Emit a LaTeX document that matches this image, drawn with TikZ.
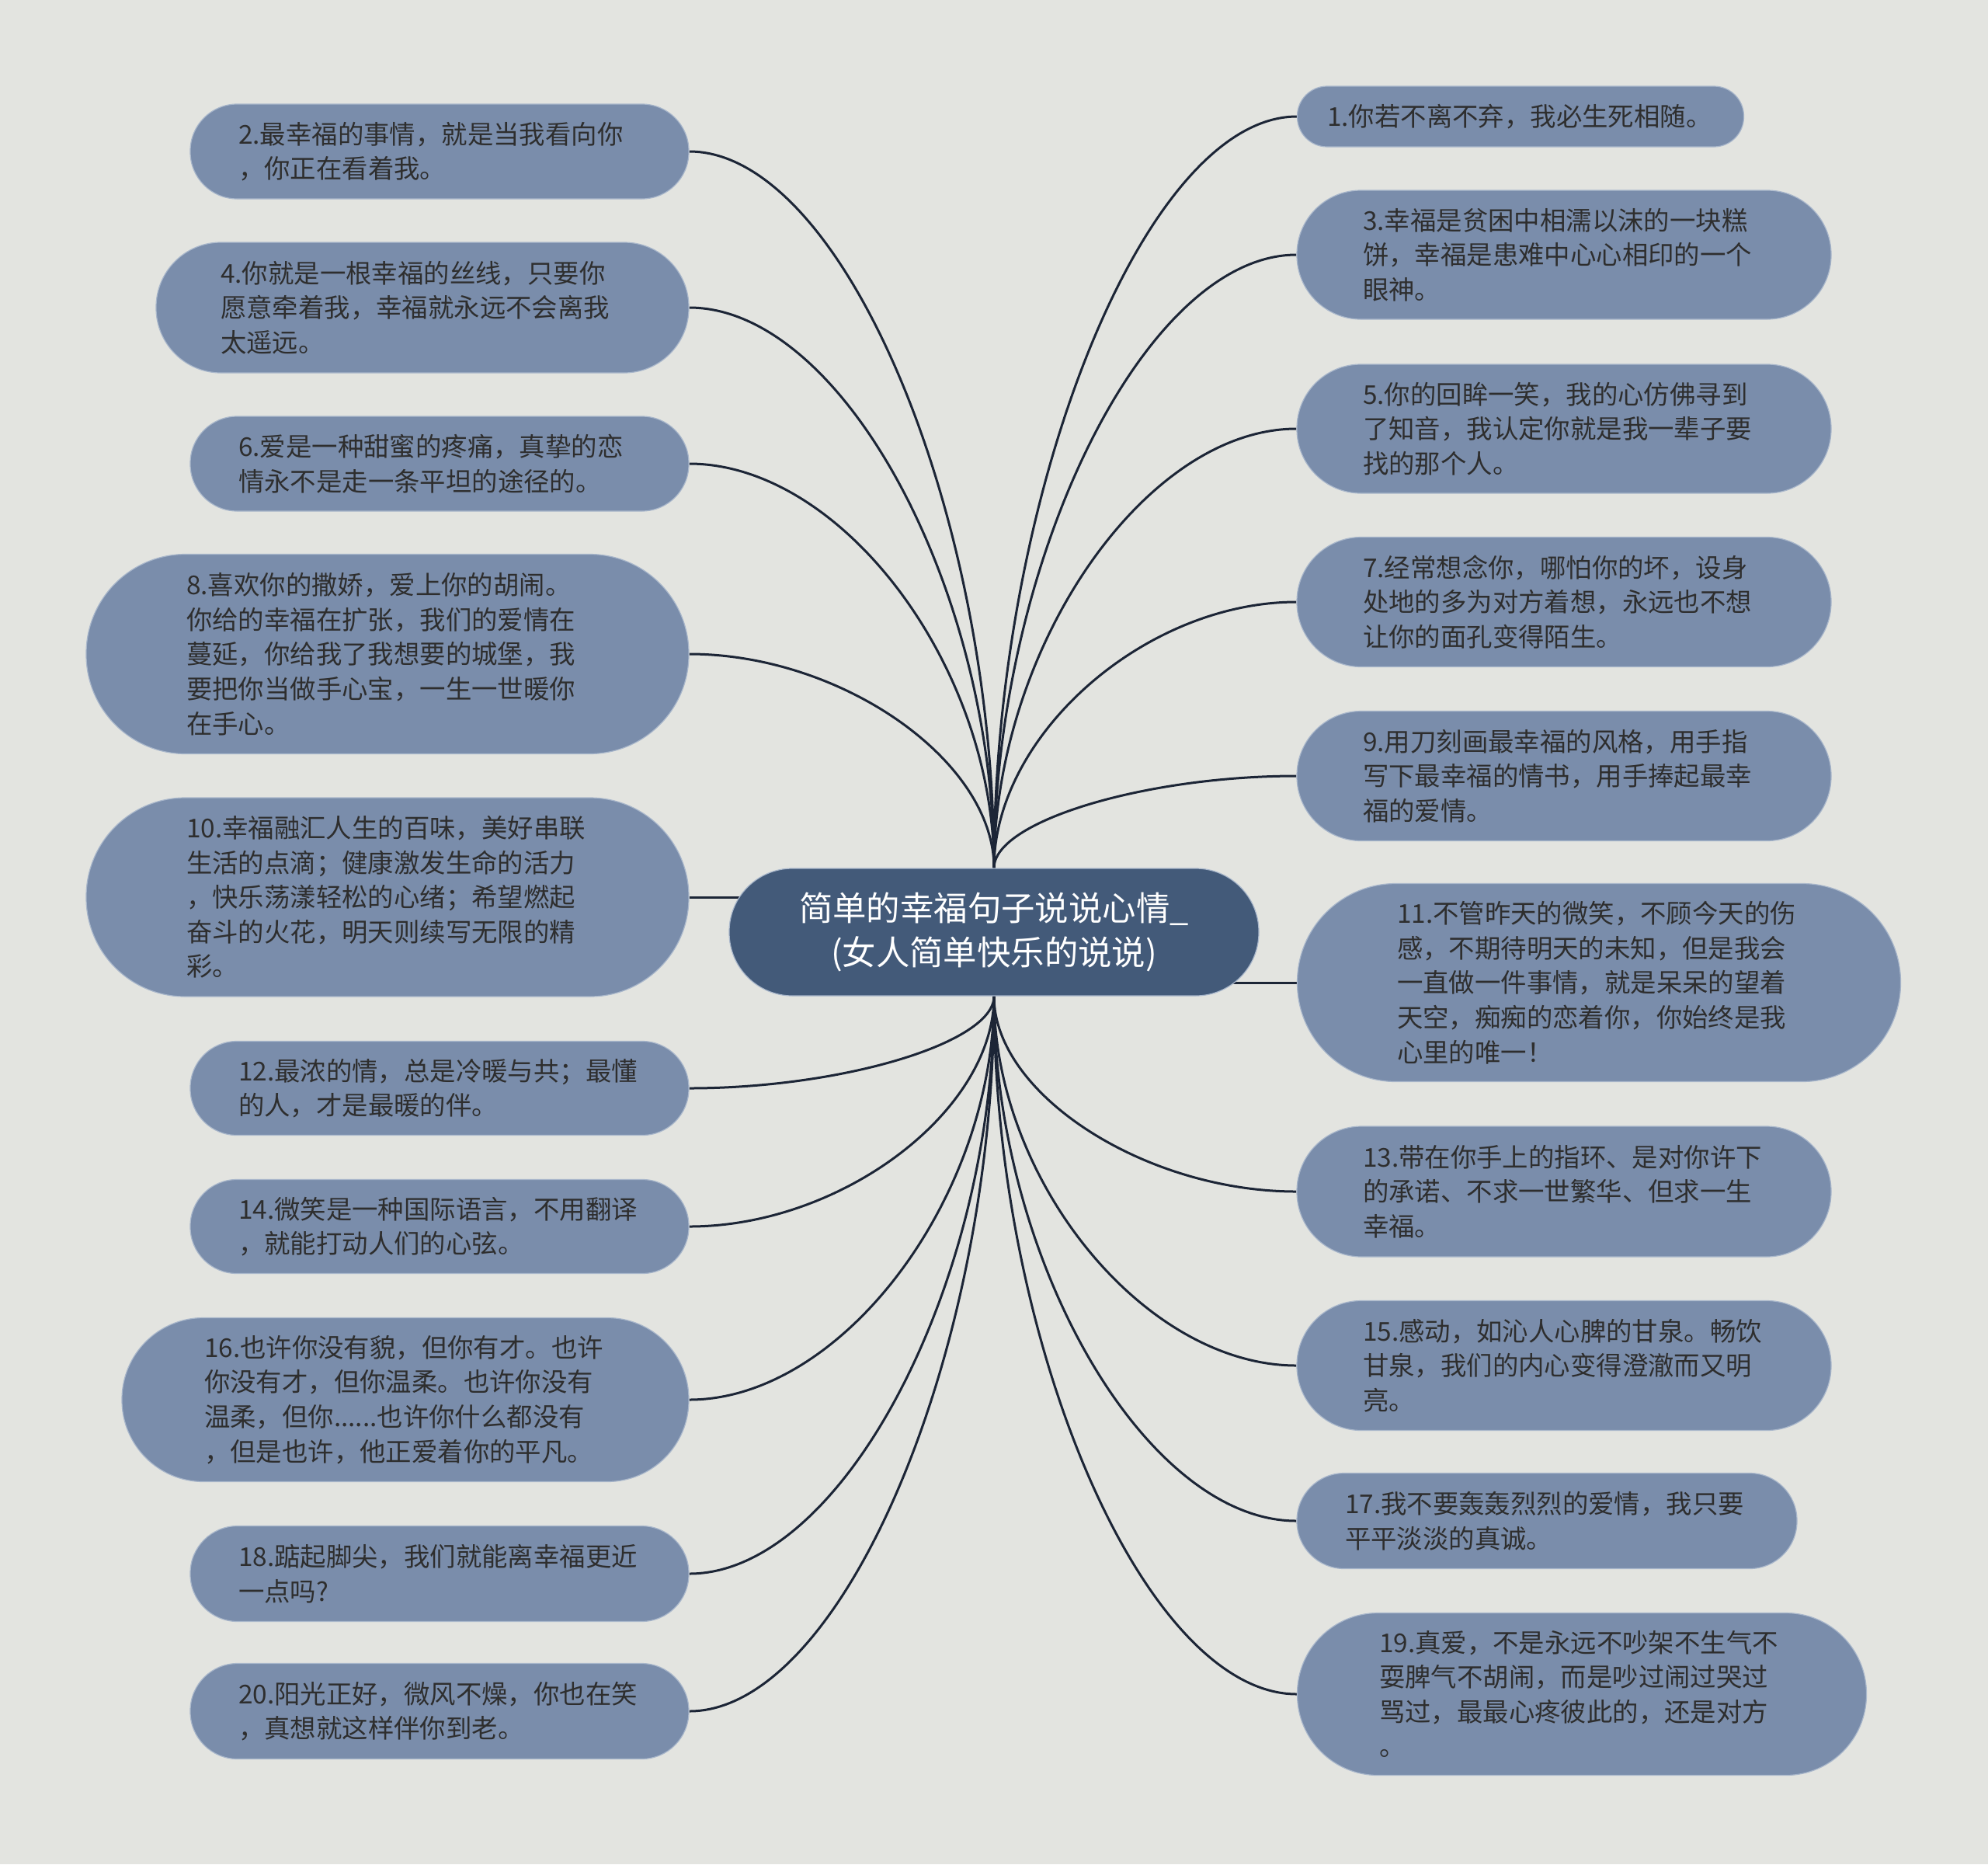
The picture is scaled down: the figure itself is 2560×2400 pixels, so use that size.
\documentclass[tikz,border=0pt]{standalone}
\usepackage{fontspec}
\setmainfont{Noto Sans CJK SC}
\definecolor{bgc}{HTML}{E3E4E0}
\definecolor{leafc}{HTML}{7A8DAB}
\definecolor{leafedge}{HTML}{A9B7CB}
\definecolor{centerc}{HTML}{435A79}
\definecolor{textc}{HTML}{2E2E2E}
\definecolor{edgec}{HTML}{1C2536}
\newcommand{\leaffont}{\fontsize{16.7pt}{22.3pt}\selectfont}
\newcommand{\rootfont}{\fontsize{21.7pt}{28.5pt}\selectfont}
\pgfdeclarelayer{bg}
\pgfsetlayers{bg,main}
\tikzset{
  leaf/.style n args={3}{shape=rectangle, fill=leafc, draw=leafedge, line width=0.6pt,
    minimum width=#1pt, minimum height=#2pt, text width=#3pt,
    rounded corners=#2*0.5pt-0.3pt, inner sep=0pt, align=left, text=textc, font=\leaffont},
  rootbox/.style={shape=rectangle, fill=centerc, draw=leafedge, line width=0.6pt,
    minimum width=341pt, minimum height=82pt, rounded corners=40.7pt, inner sep=0pt,
    align=center, text=white, font=\rootfont},
  link/.style={draw=edgec, line width=1.5pt}
}
\begin{document}
\begin{tikzpicture}[x=0.5pt,y=-0.5pt]
\useasboundingbox (0,0) rectangle (2560,2400);
% root
\node[rootbox] (c) at (1280,1200) {简单的幸福句子说说心情\_\\(女人简单快乐的说说)};
% left
\node[leaf={321}{61}{259}] (n2) at (566,195) {2.最幸福的事情，就是当我看向你\\，你正在看着我。};
\node[leaf={343}{84}{260}] (n4) at (544,396) {4.你就是一根幸福的丝线，只要你\\愿意牵着我，幸福就永远不会离我\\太遥远。};
\node[leaf={321}{61}{259}] (n6) at (566,597) {6.爱是一种甜蜜的疼痛，真挚的恋\\情永不是走一条平坦的途径的。};
\node[leaf={388}{128.5}{259}] (n8) at (499,842) {8.喜欢你的撒娇，爱上你的胡闹。\\你给的幸福在扩张，我们的爱情在\\蔓延，你给我了我想要的城堡，我\\要把你当做手心宝，一生一世暖你\\在手心。};
\node[leaf={388}{128}{259}] (n10) at (499,1155) {10.幸福融汇人生的百味，美好串联\\生活的点滴；健康激发生命的活力\\，快乐荡漾轻松的心绪；希望燃起\\奋斗的火花，明天则续写无限的精\\彩。};
\node[leaf={321}{60.5}{259}] (n12) at (566,1401) {12.最浓的情，总是冷暖与共；最懂\\的人，才是最暖的伴。};
\node[leaf={321}{60.5}{259}] (n14) at (566,1579) {14.微笑是一种国际语言，不用翻译\\，就能打动人们的心弦。};
\node[leaf={365}{105.5}{259}] (n16) at (522,1802) {16.也许你没有貌，但你有才。也许\\你没有才，但你温柔。也许你没有\\温柔，但你......也许你什么都没有\\，但是也许，他正爱着你的平凡。};
\node[leaf={321}{61.5}{259}] (n18) at (566,2026) {18.踮起脚尖，我们就能离幸福更近\\一点吗?};
\node[leaf={321}{61.5}{259}] (n20) at (566,2203) {20.阳光正好，微风不燥，你也在笑\\，真想就这样伴你到老。};
% right
\node[leaf={287.5}{39}{249}] (n1) at (1958,150) {1.你若不离不弃，我必生死相随。};
\node[leaf={344}{83}{259}] (n3) at (2014,328) {3.幸福是贫困中相濡以沫的一块糕\\饼，幸福是患难中心心相印的一个\\眼神。};
\node[leaf={344}{83}{259}] (n5) at (2014,552) {5.你的回眸一笑，我的心仿佛寻到\\了知音，我认定你就是我一辈子要\\找的那个人。};
\node[leaf={344}{83.5}{259}] (n7) at (2014,775) {7.经常想念你，哪怕你的坏，设身\\处地的多为对方着想，永远也不想\\让你的面孔变得陌生。};
\node[leaf={344}{83.5}{259}] (n9) at (2014,999) {9.用刀刻画最幸福的风格，用手指\\写下最幸福的情书，用手捧起最幸\\福的爱情。};
\node[leaf={388.5}{127.5}{260}] (n11) at (2059,1265) {11.不管昨天的微笑，不顾今天的伤\\感，不期待明天的未知，但是我会\\一直做一件事情，就是呆呆的望着\\天空，痴痴的恋着你，你始终是我\\心里的唯一！};
\node[leaf={344}{84}{259}] (n13) at (2014,1534) {13.带在你手上的指环、是对你许下\\的承诺、不求一世繁华、但求一生\\幸福。};
\node[leaf={344}{83.5}{259}] (n15) at (2014,1758) {15.感动，如沁人心脾的甘泉。畅饮\\甘泉，我们的内心变得澄澈而又明\\亮。};
\node[leaf={322}{61.5}{260}] (n17) at (1992,1958) {17.我不要轰轰烈烈的爱情，我只要\\平平淡淡的真诚。};
\node[leaf={366.5}{104.5}{261}] (n19) at (2037,2181) {19.真爱，不是永远不吵架不生气不\\耍脾气不胡闹，而是吵过闹过哭过\\骂过，最最心疼彼此的，还是对方\\。};
\begin{pgfonlayer}{bg}
\fill[bgc] (0,0) rectangle (2560,2400);
% upper left
\draw[link] (c.north) .. controls +(0,-462) and +(196,0) .. (n2.east);
\draw[link] (c.north) .. controls +(0,-361) and +(196,0) .. (n4.east);
\draw[link] (c.north) .. controls +(0,-260) and +(196,0) .. (n6.east);
\draw[link] (c.north) .. controls +(0,-138) and +(196,0) .. (n8.east);
\draw[link] (n10.east) -- (n10.east -| c.center);
% upper right
\draw[link] (c.north) .. controls +(0,-484) and +(-195,0) .. (n1.west);
\draw[link] (c.north) .. controls +(0,-395) and +(-195,0) .. (n3.west);
\draw[link] (c.north) .. controls +(0,-283) and +(-195,0) .. (n5.west);
\draw[link] (c.north) .. controls +(0,-171) and +(-195,0) .. (n7.west);
\draw[link] (c.north) .. controls +(0,-60) and +(-195,0) .. (n9.west);
\draw[link] (n11.west) -- (n11.west -| c.center);
% lower left
\draw[link] (c.south) .. controls +(0,60) and +(196,0) .. (n12.east);
\draw[link] (c.south) .. controls +(0,148) and +(196,0) .. (n14.east);
\draw[link] (c.south) .. controls +(0,260) and +(196,0) .. (n16.east);
\draw[link] (c.south) .. controls +(0,372) and +(196,0) .. (n18.east);
\draw[link] (c.south) .. controls +(0,460) and +(196,0) .. (n20.east);
% lower right
\draw[link] (c.south) .. controls +(0,126) and +(-195,0) .. (n13.west);
\draw[link] (c.south) .. controls +(0,238) and +(-195,0) .. (n15.west);
\draw[link] (c.south) .. controls +(0,338) and +(-195,0) .. (n17.west);
\draw[link] (c.south) .. controls +(0,450) and +(-195,0) .. (n19.west);
\end{pgfonlayer}
\end{tikzpicture}
\end{document}
